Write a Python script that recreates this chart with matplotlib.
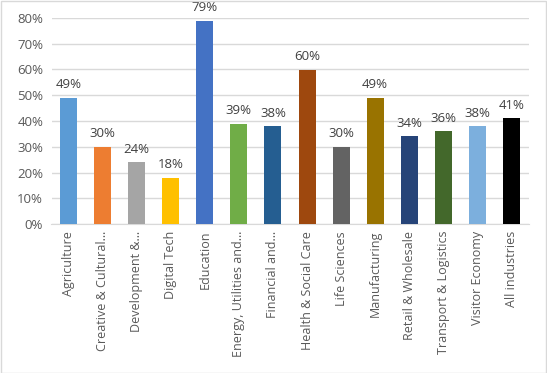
import matplotlib.pyplot as plt
from matplotlib.patches import Rectangle
from matplotlib.ticker import PercentFormatter
import numpy as np

# categories and values
industries = ['Agriculture', 'Creative & Cultural…', 'Development &…', 'Digital Tech',
              'Education', 'Energy, Utilities and…', 'Financial and…',
              'Health & Social Care', 'Life Sciences', 'Manufacturing',
              'Retail & Wholesale', 'Transport & Logistics', 'Visitor Economy',
              'All industries']
shares = [0.49, 0.30, 0.24, 0.18, 0.79, 0.39, 0.38, 0.60, 0.30, 0.49, 0.34, 0.36, 0.38, 0.41]
colours = ['#5B9BD5', '#ED7D31', '#A5A5A5', '#FFC000', '#4472C4', '#70AD47', '#255E91',
           '#9E480E', '#636363', '#997300', '#264478', '#43682B', '#7CAFDD', '#000000']

plt.rcParams['font.family'] = ['Open Sans', 'DejaVu Sans']

W, H = 547, 373
fig = plt.figure(figsize=(W / 100, H / 100), dpi=100)
fig.patches.append(Rectangle((0.5 / W, 0.5 / H), 1 - 1.5 / W, 1 - 1.5 / H,
                             transform=fig.transFigure, fill=False,
                             edgecolor='#D9D9D9', linewidth=1))

ax = fig.add_axes([51.5 / W, (H - 224) / H, 477 / W, 206 / H])
ind = np.arange(len(industries))
bars = ax.bar(ind, shares, 0.5, color=colours, zorder=3)

for x, v in zip(ind, shares):
    ax.text(x, v + 0.025, f'{v:.0%}', ha='center', va='bottom',
            fontsize=9.5, color='#404040')

ax.set_xlim(-0.5, len(industries) - 0.5)
ax.set_ylim(0, 0.8)
ax.set_yticks(np.arange(0, 0.81, 0.1))
ax.yaxis.set_major_formatter(PercentFormatter(1.0, decimals=0))
ax.set_xticks(ind)
ax.set_xticklabels(industries, rotation=90, fontsize=9, color='#595959')
ax.tick_params(axis='y', labelsize=9.5, labelcolor='#595959', length=0, pad=6)
ax.tick_params(axis='x', length=0, pad=5)
ax.grid(axis='y', color='#D9D9D9', linewidth=1, zorder=0)
for s in ['top', 'right', 'left']:
    ax.spines[s].set_visible(False)
ax.spines['bottom'].set_color('#D9D9D9')

fig.savefig('out.png', dpi=100)
